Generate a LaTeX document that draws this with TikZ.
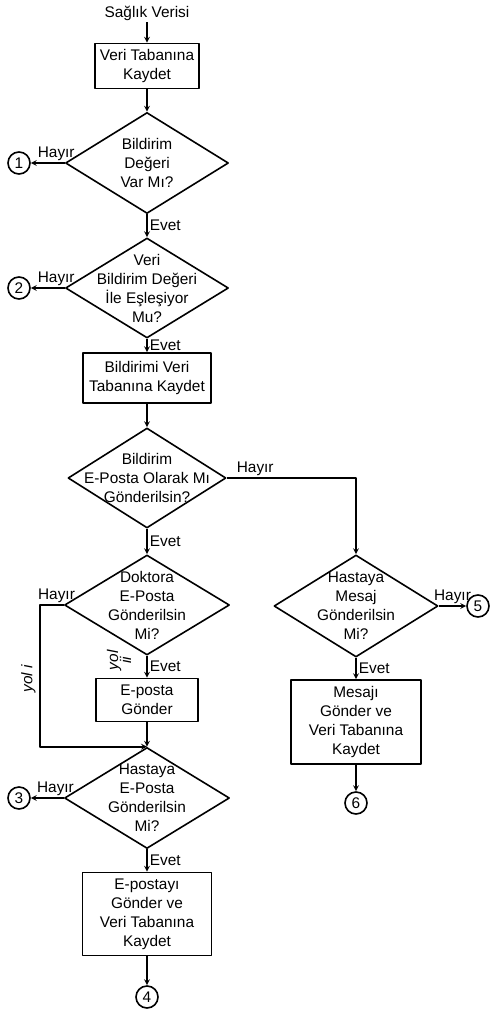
\documentclass[tikz,border=0pt]{standalone}
\usepackage{fontspec}
\setmainfont{Liberation Sans}
\usetikzlibrary{shapes.geometric}
\newcommand{\akisyazi}{\fontsize{15.4}{19}\selectfont}
\begin{document}
\begin{tikzpicture}[x=1pt,y=-1pt,line join=round,>=stealth,font=\akisyazi,
	kutu/.style={draw,line width=1.6pt,align=center,inner sep=0pt},
	karar/.style={diamond,draw,line width=1.6pt,inner sep=0pt},
	baglanti/.style={circle,draw,line width=1.6pt,minimum size=22pt,inner sep=0pt},
	yazi/.style={inner sep=2pt},
	ok/.style={->,line width=1.6pt}]
	\useasboundingbox (0,0) rectangle (491,1013);
	% sol sutun
	\node[yazi] (giris) at (147,13) {Sağlık Verisi};
	\node[kutu,minimum width=104pt,minimum height=45pt] (k1) at (147,66) {Veri Tabanına\\Kaydet};
	\node[karar,minimum width=163pt,minimum height=101pt,label={[align=center]center:Bildirim\\Değeri\\Var Mı?}] (s1) at (147,163) {};
	\node[karar,minimum width=163pt,minimum height=100pt,label={[align=center]center:Veri\\Bildirim Değeri\\İle Eşleşiyor\\Mu?}] (s2) at (147,288) {};
	\node[kutu,minimum width=128pt,minimum height=50pt] (k2) at (147,378) {Bildirimi Veri\\Tabanına Kaydet};
	\node[karar,minimum width=158pt,minimum height=100pt,label={[align=center]center:Bildirim\\E-Posta Olarak Mı\\Gönderilsin?}] (s3) at (147,478) {};
	\node[karar,minimum width=165pt,minimum height=100pt,label={[align=center]center:Doktora\\E-Posta\\Gönderilsin\\Mi?}] (s4) at (147,605) {};
	\node[kutu,minimum width=102pt,minimum height=43pt] (k3) at (147,700) {E-posta\\Gönder};
	\node[karar,minimum width=165pt,minimum height=101pt,label={[align=center]center:Hastaya\\E-Posta\\Gönderilsin\\Mi?}] (s5) at (147,798) {};
	\node[kutu,minimum width=129pt,minimum height=83pt] (k4) at (147,914) {E-postayı\\Gönder ve\\Veri Tabanına\\Kaydet};
	% sag sutun
	\node[karar,minimum width=164pt,minimum height=102pt,label={[align=center]center:Hastaya\\Mesaj\\Gönderilsin\\Mi?}] (s6) at (356,606) {};
	\node[kutu,minimum width=130pt,minimum height=84pt] (k5) at (356,722) {Mesajı\\Gönder ve\\Veri Tabanına\\Kaydet};
	% baglanti noktalari
	\node[baglanti] (b1) at (19,163) {1};
	\node[baglanti] (b2) at (19,288) {2};
	\node[baglanti] (b3) at (19,798) {3};
	\node[baglanti] (b4) at (147,997) {4};
	\node[baglanti] (b5) at (478,606) {5};
	\node[baglanti] (b6) at (356,803) {6};
	% oklar
	\draw[ok] (giris) -- (k1);
	\draw[ok] (k1) -- (s1);
	\draw[ok] (s1.west) -- node[yazi,above,pos=0.25]{Hayır} (b1);
	\draw[ok] (s1.south) -- node[yazi,right]{Evet} (s2.north);
	\draw[ok] (s2.west) -- node[yazi,above,pos=0.25]{Hayır} (b2);
	\draw[ok] (s2.south) -- node[yazi,right]{Evet} (k2);
	\draw[ok] (k2) -- (s3.north);
	\draw[ok] (s3.east) -| node[yazi,above,pos=0.11]{Hayır} (s6.north);
	\draw[ok] (s3.south) -- node[yazi,right]{Evet} (s4.north);
	\draw[ok] (s4.west) -- node[yazi,above,pos=0.3]{Hayır} ++(-24,0) |- node[pos=0.26,rotate=90,anchor=south,font=\akisyazi\itshape]{yol i} (s5.north);
	\draw[ok] (s4.south) -- node[yazi,right]{Evet} node[pos=0.2,rotate=90,anchor=south,inner sep=15pt,align=center,font=\akisyazi\itshape]{yol\\[-6pt]ii} (k3);
	\draw[ok] (k3) -- (s5.north);
	\draw[ok] (s5.west) -- node[yazi,above,pos=0.25]{Hayır} (b3);
	\draw[ok] (s5.south) -- node[yazi,right]{Evet} (k4);
	\draw[ok] (k4) -- (b4);
	\draw[ok] (s6.east) -- node[yazi,above]{Hayır} (b5);
	\draw[ok] (s6.south) -- node[yazi,right]{Evet} (k5);
	\draw[ok] (k5) -- (b6);
\end{tikzpicture}
\end{document}
